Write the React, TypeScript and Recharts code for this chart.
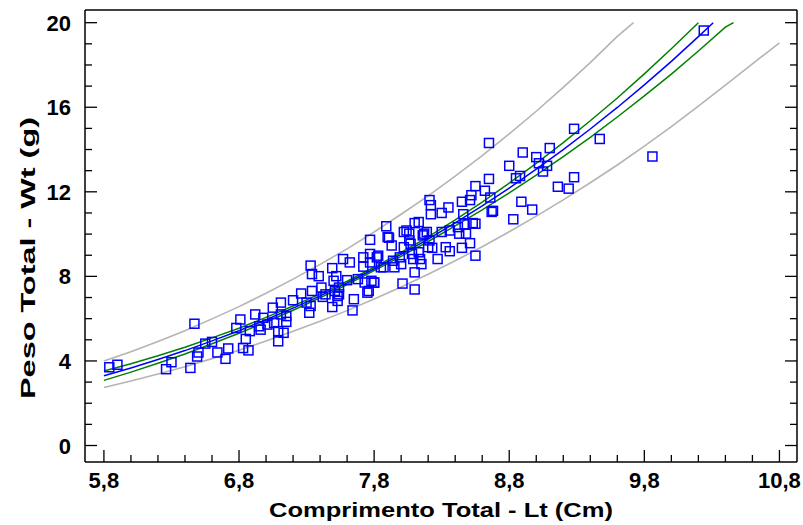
import React from 'react';
import { ComposedChart, Scatter, Line, XAxis, YAxis } from 'recharts';

// observações: comprimento total (cm) e peso total (g)
const obsLt = [
  5.84, 5.9, 6.26, 6.3, 6.44, 6.47, 6.49, 6.5, 6.55, 6.6, 6.64, 6.7, 6.72, 6.78, 6.81, 6.83, 6.85, 6.87,
  6.88, 6.92, 6.95, 6.96, 6.98, 7.01, 7.05, 7.06, 7.09, 7.09, 7.11, 7.11, 7.13, 7.15, 7.15, 7.2, 7.26, 7.3,
  7.32, 7.33, 7.33, 7.34, 7.34, 7.39, 7.41, 7.42, 7.44, 7.49, 7.49, 7.5, 7.51, 7.52, 7.53, 7.53, 7.54, 7.54,
  7.57, 7.6, 7.62, 7.64, 7.65, 7.68, 7.72, 7.72, 7.73, 7.75, 7.76, 7.77, 7.77, 7.77, 7.78, 7.8, 7.8, 7.82,
  7.83, 7.85, 7.87, 7.89, 7.9, 7.91, 7.93, 7.94, 7.95, 7.99, 8.0, 8.01, 8.02, 8.02, 8.04, 8.06, 8.06, 8.07,
  8.08, 8.09, 8.1, 8.1, 8.1, 8.13, 8.13, 8.14, 8.15, 8.16, 8.17, 8.19, 8.2, 8.21, 8.21, 8.22, 8.22, 8.23,
  8.27, 8.3, 8.3, 8.33, 8.35, 8.36, 8.36, 8.42, 8.43, 8.45, 8.45, 8.46, 8.47, 8.48, 8.51, 8.51, 8.52, 8.53,
  8.55, 8.55, 8.55, 8.62, 8.65, 8.65, 8.66, 8.67, 8.68, 8.8, 8.83, 8.85, 8.88, 8.89, 8.9, 8.97, 9.0, 9.02,
  9.05, 9.08, 9.1, 9.16, 9.24, 9.28, 9.28, 9.47, 9.86, 10.24,
];
const obsWt = [
  3.7, 3.82, 3.61, 3.94, 3.67, 5.76, 4.21, 4.4, 4.82, 4.9, 4.4, 4.1, 4.59, 5.56, 5.96, 4.61, 5.04, 4.5,
  5.41, 6.2, 5.64, 5.48, 6.04, 5.72, 6.52, 5.8, 5.41, 4.93, 6.76, 6.2, 5.33, 5.85, 6.12, 6.87, 7.19, 6.76,
  6.28, 6.6, 8.51, 7.31, 8.11, 8.01, 7.47, 7.03, 7.15, 8.39, 6.55, 7.79, 7.31, 8.01, 6.84, 7.07, 7.15, 7.47,
  8.82, 7.82, 8.66, 6.39, 6.92, 7.87, 8.9, 8.46, 7.71, 7.23, 7.31, 9.73, 8.66, 9.06, 7.79, 7.7, 7.71, 8.9,
  8.98, 8.43, 8.43, 10.37, 9.86, 9.83, 9.46, 8.74, 8.43, 8.9, 8.58, 7.66, 10.1, 9.38, 10.17, 10.02, 9.7, 9.54,
  9.06, 8.82, 10.52, 8.19, 7.38, 10.57, 9.14, 8.82, 8.58, 9.94, 10.02, 10.1, 9.38, 9.7, 11.61, 11.37, 10.94, 9.35,
  8.82, 11.0, 10.1, 9.38, 11.26, 9.19, 10.17, 10.33, 10.02, 11.53, 9.35, 10.94, 10.46, 10.02, 11.61, 9.57, 11.84, 10.52,
  10.49, 12.27, 8.98, 12.05, 14.31, 12.61, 11.73, 11.05, 11.1, 13.23, 10.7, 12.64, 12.75, 11.53, 13.86, 11.16, 13.64, 13.35,
  12.96, 13.23, 14.07, 12.24, 12.15, 14.98, 12.69, 14.5, 13.67, 19.63,
];

// modelo ajustado
const ajusteLt = [5.8, 6.0, 6.2, 6.4, 6.6, 6.8, 7.0, 7.2, 7.4, 7.6, 7.8, 8.0, 8.2, 8.4, 8.6, 8.8, 9.0, 9.2, 9.4, 9.6, 9.8, 10.0, 10.2, 10.31];
const ajusteWt = [3.3, 3.67, 4.07, 4.49, 4.95, 5.43, 5.95, 6.5, 7.08, 7.69, 8.35, 9.04, 9.76, 10.53, 11.33, 12.18, 13.07, 14.0, 14.97, 15.99, 17.06, 18.17, 19.34, 20.0];

// limites de confiança
const confSupLt = [5.8, 6.0, 6.2, 6.4, 6.6, 6.8, 7.0, 7.2, 7.4, 7.6, 7.8, 8.0, 8.2, 8.4, 8.6, 8.8, 9.0, 9.2, 9.4, 9.6, 9.8, 10.0, 10.2];
const confSupWt = [3.52, 3.87, 4.25, 4.65, 5.09, 5.55, 6.06, 6.6, 7.17, 7.77, 8.43, 9.13, 9.87, 10.67, 11.51, 12.41, 13.35, 14.33, 15.36, 16.44, 17.58, 18.77, 20.0];
const confInfLt = [5.8, 6.0, 6.2, 6.4, 6.6, 6.8, 7.0, 7.2, 7.4, 7.6, 7.8, 8.0, 8.2, 8.4, 8.6, 8.8, 9.0, 9.2, 9.4, 9.6, 9.8, 10.0, 10.2, 10.4, 10.46];
const confInfWt = [3.08, 3.47, 3.89, 4.33, 4.81, 5.31, 5.84, 6.4, 6.99, 7.61, 8.27, 8.95, 9.65, 10.39, 11.15, 11.95, 12.79, 13.67, 14.58, 15.54, 16.54, 17.57, 18.66, 19.79, 20.0];

// limites de predição
const predSupLt = [5.8, 6.0, 6.2, 6.4, 6.6, 6.8, 7.0, 7.2, 7.4, 7.6, 7.8, 8.0, 8.2, 8.4, 8.6, 8.8, 9.0, 9.2, 9.4, 9.6, 9.72];
const predSupWt = [4.0, 4.44, 4.92, 5.43, 5.99, 6.57, 7.2, 7.87, 8.57, 9.3, 10.1, 10.94, 11.81, 12.74, 13.71, 14.74, 15.81, 16.94, 18.11, 19.35, 20.0];
const predInfLt = [5.8, 6.0, 6.2, 6.4, 6.6, 6.8, 7.0, 7.2, 7.4, 7.6, 7.8, 8.0, 8.2, 8.4, 8.6, 8.8, 9.0, 9.2, 9.4, 9.6, 9.8, 10.0, 10.2, 10.4, 10.6, 10.8];
const predInfWt = [2.74, 3.05, 3.38, 3.73, 4.11, 4.51, 4.94, 5.4, 5.88, 6.38, 6.93, 7.5, 8.1, 8.74, 9.4, 10.11, 10.85, 11.62, 12.43, 13.27, 14.16, 15.08, 16.05, 17.05, 18.05, 19.05];

// eixos
const xTicks = [5.8, 6.0, 6.2, 6.4, 6.6, 6.8, 7.0, 7.2, 7.4, 7.6, 7.8, 8.0, 8.2, 8.4, 8.6, 8.8, 9.0, 9.2, 9.4, 9.6, 9.8, 10.0, 10.2, 10.4, 10.6, 10.8];
const xMajor = [5.8, 6.8, 7.8, 8.8, 9.8, 10.8];
const yTicks = [0, 1, 2, 3, 4, 5, 6, 7, 8, 9, 10, 11, 12, 13, 14, 15, 16, 17, 18, 19, 20];
const yMajor = [0, 4, 8, 12, 16, 20];

const pairs = (xs: number[], ys: number[]) => xs.map((x, i) => ({ x, y: ys[i] }));

const FONT = '"Liberation Sans", Arial, sans-serif';
const isMajor = (list: number[], v: number) => list.some((m) => Math.abs(m - v) < 1e-6);
const fmt = (v: number) => v.toFixed(1).replace('.', ',');

const BottomTick = (props: any) => {
  const { x, y, payload } = props;
  const major = isMajor(xMajor, payload.value);
  return (
    <g>
      <line x1={x} y1={y} x2={x} y2={y - (major ? 12 : 7)} stroke="#000" strokeWidth={1.3} />
      {major && (
        <text x={x} y={y + 26} textAnchor="middle" fontSize={22} fontWeight="bold" fontFamily={FONT} fill="#000">
          {fmt(payload.value)}
        </text>
      )}
    </g>
  );
};

const TopTick = (props: any) => {
  const { x, y, payload } = props;
  const major = isMajor(xMajor, payload.value);
  return <line x1={x} y1={y} x2={x} y2={y + (major ? 12 : 7)} stroke="#000" strokeWidth={1.3} />;
};

const LeftTick = (props: any) => {
  const { x, y, payload } = props;
  const major = isMajor(yMajor, payload.value);
  return (
    <g>
      <line x1={x} y1={y} x2={x + (major ? 12 : 7)} y2={y} stroke="#000" strokeWidth={1.3} />
      {major && (
        <text x={x - 14} y={y + 8} textAnchor="end" fontSize={22} fontWeight="bold" fontFamily={FONT} fill="#000">
          {payload.value}
        </text>
      )}
    </g>
  );
};

const RightTick = (props: any) => {
  const { x, y, payload } = props;
  const major = isMajor(yMajor, payload.value);
  return <line x1={x} y1={y} x2={x - (major ? 12 : 7)} y2={y} stroke="#000" strokeWidth={1.3} />;
};

const Quadrado = (props: any) => {
  const { cx, cy } = props;
  return <rect x={cx - 4.5} y={cy - 4.5} width={9} height={9} fill="none" stroke="#0000ff" strokeWidth={1.5} />;
};

const xDomain: [number, number] = [5.66, 10.93];
const yDomain: [number, number] = [-0.78, 20.6];

export default function App() {
  return (
    <div style={{ position: 'absolute', left: 0, top: 0, width: 803, height: 525, background: '#fff' }}>
      <ComposedChart width={803} height={525} margin={{ top: 9, right: 5, bottom: 62, left: 84 }}>
        <XAxis
          xAxisId="bottom"
          dataKey="x"
          type="number"
          domain={xDomain}
          allowDataOverflow
          ticks={xTicks}
          interval={0}
          height={1}
          tickSize={0}
          tickMargin={0}
          tickLine={false}
          tick={<BottomTick />}
          axisLine={{ stroke: '#000', strokeWidth: 1.5 }}
          label={() => (
            <text x={441} y={517} textAnchor="middle" fontSize={21} fontWeight="bold" fontFamily={FONT}
              fill="#000" textLength={344} lengthAdjust="spacingAndGlyphs">
              Comprimento Total - Lt (Cm)
            </text>
          )}
        />
        <XAxis
          xAxisId="top"
          orientation="top"
          type="number"
          domain={xDomain}
          allowDataOverflow
          ticks={xTicks}
          interval={0}
          height={1}
          tickSize={0}
          tickMargin={0}
          tickLine={false}
          tick={<TopTick />}
          axisLine={{ stroke: '#000', strokeWidth: 1.5 }}
        />
        <YAxis
          yAxisId="left"
          dataKey="y"
          type="number"
          domain={yDomain}
          allowDataOverflow
          ticks={yTicks}
          interval={0}
          width={1}
          tickSize={0}
          tickMargin={0}
          tickLine={false}
          tick={<LeftTick />}
          axisLine={{ stroke: '#000', strokeWidth: 1.5 }}
          label={() => (
            <text x={27} y={258} textAnchor="middle" dominantBaseline="central" fontSize={21} fontWeight="bold"
              fontFamily={FONT} fill="#000" transform="rotate(-90, 27, 258)" textLength={282}
              lengthAdjust="spacingAndGlyphs">
              Peso Total - Wt (g)
            </text>
          )}
        />
        <YAxis
          yAxisId="right"
          orientation="right"
          type="number"
          domain={yDomain}
          allowDataOverflow
          ticks={yTicks}
          interval={0}
          width={1}
          tickSize={0}
          tickMargin={0}
          tickLine={false}
          tick={<RightTick />}
          axisLine={{ stroke: '#000', strokeWidth: 1.5 }}
        />
        <Line xAxisId="bottom" yAxisId="left" data={pairs(predSupLt, predSupWt)} dataKey="y" type="linear"
          stroke="#b4b4b4" strokeWidth={1.6} dot={false} activeDot={false} isAnimationActive={false} />
        <Line xAxisId="bottom" yAxisId="left" data={pairs(predInfLt, predInfWt)} dataKey="y" type="linear"
          stroke="#b4b4b4" strokeWidth={1.6} dot={false} activeDot={false} isAnimationActive={false} />
        <Scatter xAxisId="bottom" yAxisId="left" data={pairs(obsLt, obsWt)} shape={<Quadrado />}
          isAnimationActive={false} />
        <Line xAxisId="bottom" yAxisId="left" data={pairs(confSupLt, confSupWt)} dataKey="y" type="linear"
          stroke="#008000" strokeWidth={1.5} dot={false} activeDot={false} isAnimationActive={false} />
        <Line xAxisId="bottom" yAxisId="left" data={pairs(confInfLt, confInfWt)} dataKey="y" type="linear"
          stroke="#008000" strokeWidth={1.5} dot={false} activeDot={false} isAnimationActive={false} />
        <Line xAxisId="bottom" yAxisId="left" data={pairs(ajusteLt, ajusteWt)} dataKey="y" type="linear"
          stroke="#0000ff" strokeWidth={1.5} dot={false} activeDot={false} isAnimationActive={false} />
      </ComposedChart>
    </div>
  );
}
